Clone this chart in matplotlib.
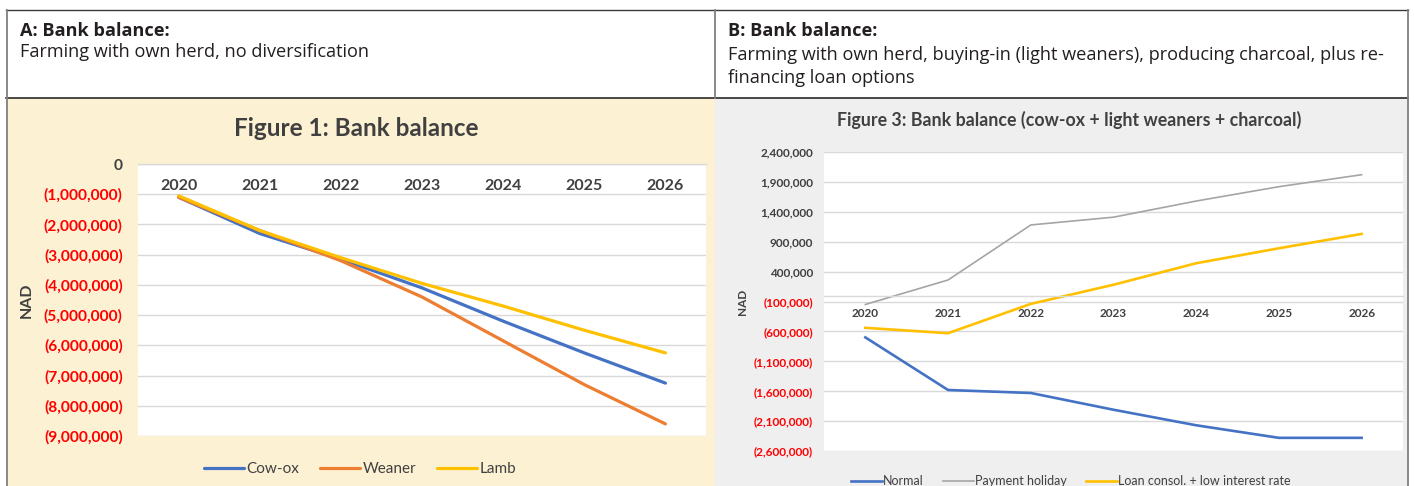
import matplotlib
matplotlib.use("Agg")
import matplotlib.pyplot as plt
from matplotlib import lines, patches
from matplotlib.ticker import FuncFormatter

# ---------------- data ----------------
years = ["2020", "2021", "2022", "2023", "2024", "2025", "2026"]

# Figure 1 (own herd, no diversification)
cow_ox = [-1.10e6, -2.30e6, -3.15e6, -4.10e6, -5.20e6, -6.25e6, -7.25e6]
weaner = [-1.10e6, -2.20e6, -3.20e6, -4.40e6, -5.85e6, -7.30e6, -8.60e6]
lamb = [-1.05e6, -2.20e6, -3.10e6, -3.95e6, -4.70e6, -5.50e6, -6.25e6]
fig1_ticks = [0, -1e6, -2e6, -3e6, -4e6, -5e6, -6e6, -7e6, -8e6, -9e6]

# Figure 3 (cow-ox + light weaners + charcoal)
normal = [-0.70e6, -1.58e6, -1.63e6, -1.91e6, -2.17e6, -2.38e6, -2.38e6]
payment_holiday = [-0.15e6, 0.26e6, 1.18e6, 1.31e6, 1.58e6, 1.82e6, 2.02e6]
loan_consol = [-0.54e6, -0.63e6, -0.14e6, 0.18e6, 0.54e6, 0.79e6, 1.03e6]
fig3_ticks = [2.4e6, 1.9e6, 1.4e6, 0.9e6, 0.4e6, -0.1e6, -0.6e6, -1.1e6, -1.6e6, -2.1e6, -2.6e6]

BLUE, ORANGE, GREY, YELLOW = "#4472c4", "#ed7d31", "#a5a5a5", "#ffc000"
CREAM, LIGHTGREY = "#fdf1d3", "#efefef"
TXT = "#404040"
FONT = "Lato"

W, H = 1414, 486
fig = plt.figure(figsize=(W / 100, H / 100), dpi=100)
fig.set_facecolor("white")


def box(x0, y0, x1, y1):
    # pixel box (top-left origin) -> figure fraction [l, b, w, h]
    return [x0 / W, 1 - y1 / H, (x1 - x0) / W, (y1 - y0) / H]


def fx(x):
    return x / W


def fy(y):
    return 1 - y / H


def excel_fmt(v, pos):
    if abs(v) < 1:
        return "0"
    if v < 0:
        return "({:,.0f})".format(-v)
    return "{:,.0f}".format(v)


# ---------------- panel backgrounds ----------------
fig.add_artist(patches.Rectangle((fx(7), 0), fx(715) - fx(7), fy(98.5), color=CREAM, zorder=0))
fig.add_artist(patches.Rectangle((fx(715), 0), fx(1407) - fx(715), fy(98.5), color=LIGHTGREY, zorder=0))

# table borders
fig.add_artist(lines.Line2D([fx(6), fx(1408)], [fy(10), fy(10)], lw=1.0, color="#3a3a3a"))
fig.add_artist(lines.Line2D([fx(6), fx(1408)], [fy(98), fy(98)], lw=1.2, color="#2a2a2a"))
fig.add_artist(lines.Line2D([fx(6.5), fx(6.5)], [0, fy(10)], lw=1.3, color="#808080"))
fig.add_artist(lines.Line2D([fx(1407.5), fx(1407.5)], [0, fy(10)], lw=1.3, color="#808080"))
fig.add_artist(lines.Line2D([fx(714.5), fx(714.5)], [fy(98), fy(10)], lw=1.3, color="#808080"))

# header texts
hdr = dict(fontfamily="Open Sans", fontsize=13.1, color="#231f20", va="center", ha="left")
fig.text(fx(20), fy(31), "A: Bank balance:", fontweight="bold", **hdr)
fig.text(fx(20), fy(52), "Farming with own herd, no diversification", **hdr)
fig.text(fx(728), fy(31), "B: Bank balance:", fontweight="bold", **hdr)
fig.text(fx(728), fy(55), "Farming with own herd, buying-in (light weaners), producing charcoal, plus re-", **hdr)
fig.text(fx(728), fy(78), "financing loan options", **hdr)


def style_axes(ax, ticks, xsize, ysize, xpad, ypad):
    ax.set_facecolor("white")
    for s in ["top", "right", "left"]:
        ax.spines[s].set_visible(False)
    ax.spines["bottom"].set_position(("data", 0))
    ax.spines["bottom"].set_color("#d9d9d9")
    ax.spines["bottom"].set_linewidth(1.0)
    ax.set_xlim(-0.5, len(years) - 0.5)
    ax.set_xticks(range(len(years)), years)
    ax.set_yticks(ticks)
    ax.yaxis.set_major_formatter(FuncFormatter(excel_fmt))
    ax.grid(axis="y", color="#d9d9d9", lw=1.0)
    ax.set_axisbelow(True)
    ax.tick_params(axis="both", length=0)
    ax.tick_params(axis="x", pad=xpad, labelsize=xsize)
    ax.tick_params(axis="y", pad=ypad, labelsize=ysize)
    for t in ax.get_xticklabels() + ax.get_yticklabels():
        t.set_fontfamily(FONT)
        t.set_fontweight("bold")
    for t, v in zip(ax.get_yticklabels(), ticks):
        t.set_color("#ff0000" if v < 0 else TXT)
    for t in ax.get_xticklabels():
        t.set_color(TXT)


# ---------------- Figure 1 ----------------
ax1 = fig.add_axes(box(138, 164, 706, 436))
ax1.plot(range(len(years)), cow_ox, color=BLUE, lw=2.3, label="Cow-ox", solid_capstyle="round")
ax1.plot(range(len(years)), weaner, color=ORANGE, lw=2.3, label="Weaner", solid_capstyle="round")
ax1.plot(range(len(years)), lamb, color=YELLOW, lw=2.3, label="Lamb", solid_capstyle="round")
ax1.set_ylim(-9e6, 0)
style_axes(ax1, fig1_ticks, 11.5, 11.2, 10.5, 11)
ax1.set_ylabel("NAD", fontfamily=FONT, fontweight="bold", fontsize=11.5, color=TXT)
ax1.yaxis.set_label_coords((34 - 138) / 568, 0.5)
fig.text(fx(356), fy(128), "Figure 1: Bank balance", fontfamily=FONT, fontweight="bold",
         fontsize=17.5, color=TXT, ha="center", va="center")
leg1 = fig.legend(handles=ax1.get_lines(), loc="center", bbox_to_anchor=(fx(360), fy(469)),
                  ncol=3, frameon=False, handlelength=2.6, handletextpad=0.15, columnspacing=1.4,
                  prop={"family": FONT, "size": 11})
for t in leg1.get_texts():
    t.set_color(TXT)

# ---------------- Figure 3 ----------------
ax3 = fig.add_axes(box(824, 152, 1403, 451))
ax3.plot(range(len(years)), normal, color=BLUE, lw=1.9, label="Normal")
ax3.plot(range(len(years)), payment_holiday, color=GREY, lw=1.2, label="Payment holiday")
ax3.plot(range(len(years)), loan_consol, color=YELLOW, lw=1.9, label="Loan consol. + low interest rate")
ax3.set_ylim(-2.6e6, 2.4e6)
style_axes(ax3, fig3_ticks, 8.5, 8.5, 9, 8)
ax3.set_ylabel("NAD", fontfamily=FONT, fontweight="bold", fontsize=8.5, color=TXT)
ax3.yaxis.set_label_coords((748 - 824) / 579, 0.5)
fig.text(fx(1069), fy(120), "Figure 3: Bank balance (cow-ox + light weaners + charcoal)",
         fontfamily=FONT, fontweight="bold", fontsize=12.8, color=TXT, ha="center", va="center")
leg3 = fig.legend(handles=ax3.get_lines(), loc="center", bbox_to_anchor=(fx(1071), fy(481)),
                  ncol=3, frameon=False, handlelength=2.5, handletextpad=0.1, columnspacing=1.5,
                  prop={"family": FONT, "size": 9})
for t in leg3.get_texts():
    t.set_color(TXT)

fig.savefig("out.png", dpi=100)
